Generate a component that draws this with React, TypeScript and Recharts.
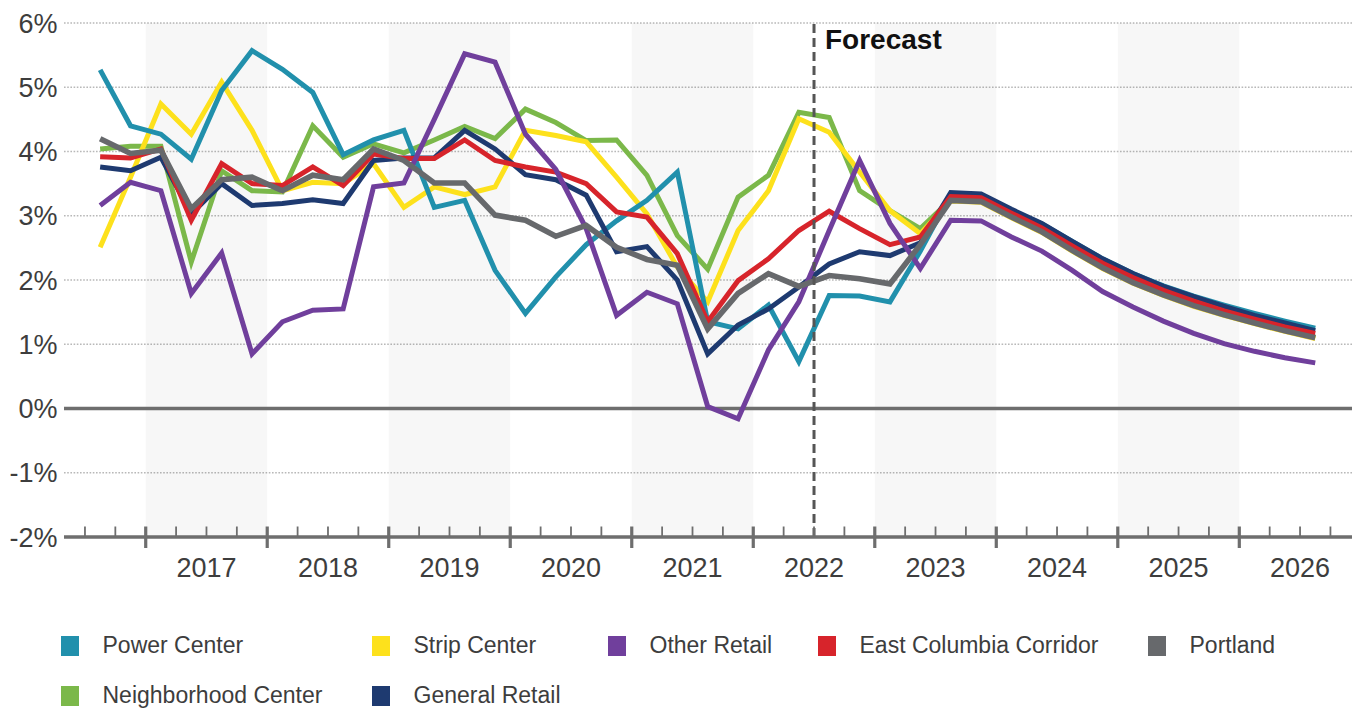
import React from 'react';
import {
  LineChart,
  Line,
  XAxis,
  YAxis,
  CartesianGrid,
  ReferenceArea,
  ReferenceLine,
} from 'recharts';

// ---------------- DATA ----------------
const quarters = [
  '2016Q3', '2016Q4',
  '2017Q1', '2017Q2', '2017Q3', '2017Q4',
  '2018Q1', '2018Q2', '2018Q3', '2018Q4',
  '2019Q1', '2019Q2', '2019Q3', '2019Q4',
  '2020Q1', '2020Q2', '2020Q3', '2020Q4',
  '2021Q1', '2021Q2', '2021Q3', '2021Q4',
  '2022Q1', '2022Q2', '2022Q3', '2022Q4',
  '2023Q1', '2023Q2', '2023Q3', '2023Q4',
  '2024Q1', '2024Q2', '2024Q3', '2024Q4',
  '2025Q1', '2025Q2', '2025Q3', '2025Q4',
  '2026Q1', '2026Q2', '2026Q3',
];

const yearLabels = ['2017', '2018', '2019', '2020', '2021', '2022', '2023', '2024', '2025', '2026'];
const shadedYears = ['2017', '2019', '2021', '2023', '2025'];
const yTicks = [-2, -1, 0, 1, 2, 3, 4, 5, 6];
const forecastStart = '2022Q3';

const powerCenter = [
  5.27, 4.40, 4.27, 3.88, 4.95, 5.57, 5.28, 4.92, 3.95, 4.18,
  4.33, 3.13, 3.24, 2.15, 1.48, 2.05, 2.55, 2.92, 3.24, 3.68,
  1.35, 1.24, 1.61, 0.73, 1.76, 1.75, 1.66, 2.45, 3.33, 3.31,
  3.08, 2.87, 2.60, 2.33, 2.10, 1.91, 1.75, 1.61, 1.48, 1.36, 1.25,
];
const stripCenter = [
  2.51, 3.60, 4.74, 4.27, 5.08, 4.33, 3.39, 3.52, 3.50, 3.81,
  3.13, 3.45, 3.33, 3.45, 4.33, 4.25, 4.15, 3.60, 3.03, 2.20,
  1.66, 2.77, 3.39, 4.51, 4.30, 3.68, 3.08, 2.72, 3.23, 3.21,
  2.97, 2.74, 2.45, 2.18, 1.95, 1.76, 1.59, 1.45, 1.32, 1.20, 1.09,
];
const otherRetail = [
  3.16, 3.52, 3.39, 1.79, 2.42, 0.85, 1.35, 1.53, 1.55, 3.45,
  3.51, 4.50, 5.52, 5.39, 4.27, 3.72, 2.80, 1.45, 1.81, 1.63,
  0.03, -0.16, 0.91, 1.66, 2.77, 3.86, 2.88, 2.18, 2.93, 2.92,
  2.67, 2.45, 2.15, 1.82, 1.58, 1.36, 1.17, 1.01, 0.89, 0.79, 0.71,
];
const eastColumbia = [
  3.92, 3.90, 4.04, 2.93, 3.81, 3.50, 3.47, 3.76, 3.47, 3.96,
  3.89, 3.89, 4.18, 3.86, 3.76, 3.68, 3.50, 3.06, 2.98, 2.41,
  1.35, 1.99, 2.33, 2.77, 3.07, 2.80, 2.55, 2.67, 3.30, 3.28,
  3.04, 2.81, 2.53, 2.26, 2.04, 1.84, 1.67, 1.52, 1.39, 1.27, 1.17,
];
const portland = [
  4.20, 3.97, 4.02, 3.11, 3.56, 3.60, 3.39, 3.63, 3.56, 4.04,
  3.86, 3.51, 3.51, 3.01, 2.93, 2.68, 2.85, 2.51, 2.32, 2.23,
  1.24, 1.79, 2.10, 1.90, 2.07, 2.02, 1.94, 2.55, 3.24, 3.22,
  2.98, 2.75, 2.46, 2.19, 1.96, 1.77, 1.60, 1.46, 1.33, 1.21, 1.10,
];
const neighborhoodCenter = [
  4.04, 4.08, 4.08, 2.28, 3.70, 3.39, 3.37, 4.40, 3.91, 4.12,
  3.98, 4.18, 4.39, 4.20, 4.66, 4.45, 4.17, 4.18, 3.63, 2.69,
  2.17, 3.29, 3.63, 4.61, 4.53, 3.39, 3.08, 2.80, 3.25, 3.23,
  2.99, 2.76, 2.47, 2.20, 1.97, 1.78, 1.61, 1.47, 1.34, 1.22, 1.11,
];
const generalRetail = [
  3.76, 3.70, 3.91, 3.03, 3.50, 3.16, 3.19, 3.25, 3.19, 3.86,
  3.90, 3.90, 4.33, 4.04, 3.64, 3.56, 3.32, 2.44, 2.52, 2.00,
  0.85, 1.30, 1.55, 1.89, 2.25, 2.44, 2.38, 2.58, 3.36, 3.34,
  3.10, 2.88, 2.60, 2.33, 2.10, 1.90, 1.74, 1.59, 1.45, 1.33, 1.21,
];

const seriesNames = [
  'Power Center', 'Strip Center', 'Other Retail', 'East Columbia Corridor',
  'Portland', 'Neighborhood Center', 'General Retail',
];
const seriesKeys = ['pc', 'sc', 'or', 'ec', 'po', 'nc', 'gr'];
const seriesValues = [powerCenter, stripCenter, otherRetail, eastColumbia, portland, neighborhoodCenter, generalRetail];
const seriesColors = ['#2190ac', '#fde11c', '#703f9c', '#d7242b', '#67696c', '#7bb84a', '#1e3a70'];

// ---------------- HELPERS ----------------
const BASE_YEAR = 2016;
const quarterPos = (label: string) => {
  const year = parseInt(label.slice(0, 4), 10);
  const qtr = parseInt(label.slice(5), 10);
  return (year - BASE_YEAR) * 4 + (qtr - 1);
};
const yearStart = (year: string) => (parseInt(year, 10) - BASE_YEAR) * 4;

const data = quarters.map((label, i) => {
  const row: Record<string, number | string> = { label, q: quarterPos(label) + 0.5 };
  seriesKeys.forEach((k, s) => {
    row[k] = seriesValues[s][i];
  });
  return row;
});

const firstQ = quarterPos(quarters[0]);
const lastQ = quarterPos(quarters[quarters.length - 1]) + 1;
const tickValues: number[] = [];
for (let t = firstQ; t <= lastQ; t++) tickValues.push(t);

const FONT = '"Liberation Sans", Arial, Helvetica, sans-serif';
const AXIS_COLOR = '#6e6e6e';
const TEXT_COLOR = '#3d3d3d';

const XTick = (props: any) => {
  const { x, y, payload } = props;
  const t = payload.value as number;
  const major = t % 4 === 0;
  const yearLabel = yearLabels.find((yl) => yearStart(yl) + 2 === t);
  return (
    <g>
      {major ? (
        <line x1={x} x2={x} y1={y - 10.5} y2={y + 11} stroke={AXIS_COLOR} strokeWidth={3.2} />
      ) : (
        <line x1={x} x2={x} y1={y - 10.5} y2={y} stroke={AXIS_COLOR} strokeWidth={1.8} />
      )}
      {yearLabel ? (
        <text x={x} y={y + 40} textAnchor="middle" fontSize={27} fill={TEXT_COLOR} fontFamily={FONT}>
          {yearLabel}
        </text>
      ) : null}
    </g>
  );
};

const YTick = (props: any) => {
  const { x, y, payload } = props;
  return (
    <text x={x - 6.5} y={y} dy="0.36em" textAnchor="end" fontSize={27} fill={TEXT_COLOR} fontFamily={FONT}>
      {`${payload.value}%`}
    </text>
  );
};

const ForecastLabel = (props: any) => {
  const vb = props.viewBox || {};
  return (
    <text
      x={(vb.x || 0) + 11}
      y={(vb.y || 0) + 25.5}
      fontSize={28}
      fontWeight="bold"
      fill="#111"
      fontFamily={FONT}
    >
      Forecast
    </text>
  );
};

// legend layout (order of seriesNames)
const legendLayout = [
  { x: 61, y: 636 },
  { x: 372, y: 636 },
  { x: 608, y: 636 },
  { x: 818, y: 636 },
  { x: 1148, y: 636 },
  { x: 61, y: 686 },
  { x: 372, y: 686 },
];

// draw order (bottom -> top)
const drawOrder = [5, 1, 0, 6, 3, 2, 4];

export default function App() {
  return (
    <div
      style={{
        position: 'absolute',
        left: 0,
        top: 0,
        width: 1356,
        height: 708,
        background: '#fff',
        overflow: 'hidden',
      }}
    >
      <LineChart
        width={1356}
        height={600}
        data={data}
        margin={{ top: 23, right: 4, left: 0, bottom: 0 }}
      >
        {shadedYears.map((yr) => (
          <ReferenceArea
            key={yr}
            x1={yearStart(yr)}
            x2={yearStart(yr) + 4}
            y1={-2}
            y2={6}
            fill="#000"
            fillOpacity={0.03}
            stroke="none"
            ifOverflow="visible"
          />
        ))}
        <CartesianGrid
          vertical={false}
          stroke="#b8b8b8"
          strokeWidth={1.3}
          strokeDasharray="1.6 1.6"
        />
        <XAxis
          dataKey="q"
          type="number"
          domain={[1.31, 43.71]}
          ticks={tickValues}
          interval={0}
          height={63}
          tickSize={0}
          tickMargin={0}
          tickLine={false}
          axisLine={{ stroke: AXIS_COLOR, strokeWidth: 3.5 }}
          tick={<XTick />}
          allowDataOverflow
        />
        <YAxis
          type="number"
          domain={[-2, 6]}
          ticks={yTicks}
          interval={0}
          width={64}
          tickSize={0}
          tickMargin={0}
          tickLine={false}
          axisLine={false}
          tick={<YTick />}
          allowDataOverflow
        />
        <ReferenceLine y={0} stroke={AXIS_COLOR} strokeWidth={3.5} />
        {drawOrder.map((s) => (
          <Line
            key={seriesKeys[s]}
            type="linear"
            dataKey={seriesKeys[s]}
            name={seriesNames[s]}
            stroke={seriesColors[s]}
            strokeWidth={s === 4 ? 5.6 : 5}
            dot={false}
            activeDot={false}
            isAnimationActive={false}
          />
        ))}
        <ReferenceLine
          x={quarterPos(forecastStart)}
          stroke="#555"
          strokeWidth={3}
          strokeDasharray="9 5"
          label={<ForecastLabel />}
        />
      </LineChart>
      <svg
        width={1356}
        height={708}
        style={{ position: 'absolute', left: 0, top: 0, pointerEvents: 'none' }}
      >
        {seriesNames.map((name, s) => (
          <g key={name}>
            <rect x={legendLayout[s].x} y={legendLayout[s].y} width={18} height={20} fill={seriesColors[s]} />
            <text
              x={legendLayout[s].x + 41.5}
              y={legendLayout[s].y + 17}
              fontSize={23}
              fill={TEXT_COLOR}
              fontFamily={FONT}
            >
              {name}
            </text>
          </g>
        ))}
      </svg>
    </div>
  );
}
